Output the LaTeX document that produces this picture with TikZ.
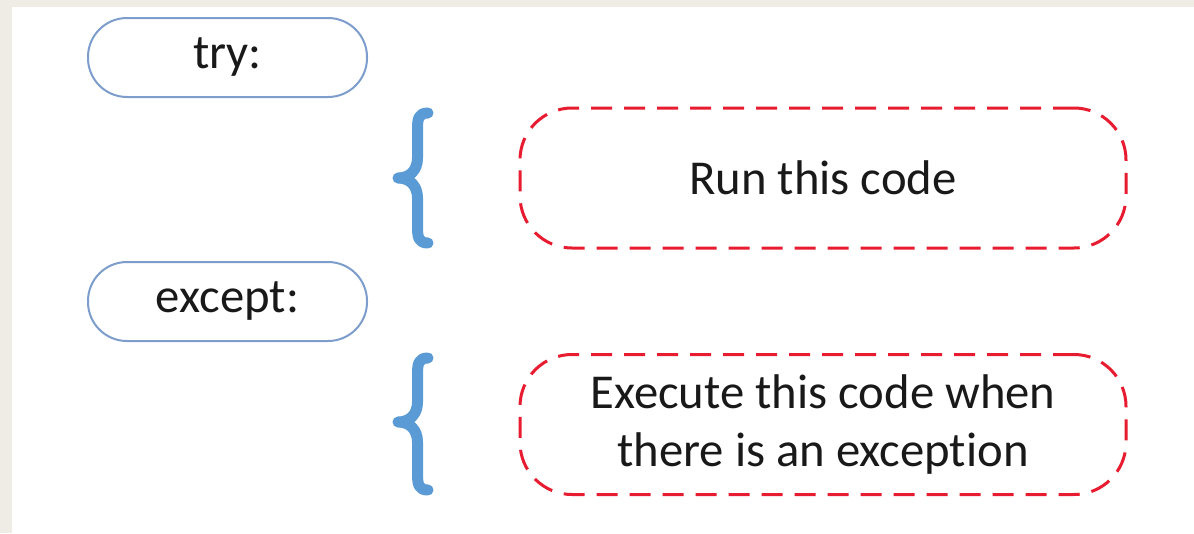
\documentclass[tikz,border=0pt]{standalone}
\usepackage{fontspec}
\setmainfont[Ligatures=NoCommon]{Carlito}
\definecolor{bgbeige}{RGB}{239,236,229}
\definecolor{pillblue}{RGB}{125,157,205}
\definecolor{braceblue}{RGB}{91,155,213}
\definecolor{dashred}{RGB}{232,28,48}
\definecolor{txt}{RGB}{25,25,25}
\tikzset{
  pill/.style={draw=pillblue, line width=2pt, rounded corners=39pt, minimum width=279pt, minimum height=79pt, inner sep=0pt, text=txt, font=\fontsize{48.7}{58}\selectfont},
  dashbox/.style={draw=dashred, line width=3pt, dash pattern=on 21pt off 12pt, rounded corners=52pt, minimum width=606pt, minimum height=140pt, inner sep=0pt, align=center, text=txt, font=\fontsize{48.7}{58}\selectfont},
  bracestyle/.style={draw=braceblue, line width=11pt, line cap=round, line join=round}
}
\begin{document}
\begin{tikzpicture}[x=1pt,y=-1pt]
\fill[bgbeige] (0,0) rectangle (1194,533);
\fill[white] (12,7) rectangle (1194,533);
\useasboundingbox (0,0) rectangle (1194,533);
\node[pill] (try) at (227.5,57.5) {try:};
\node[pill] (except) at (227.5,301.5) {except:};
\node[dashbox] (run) at (823,178) {Run this code};
\node[dashbox] (exec) at (823,424.5) {Execute this code when\\there is an exception};
% brace 1
\draw[bracestyle] (428,113) .. controls (418,113) and (417.5,119) .. (417.5,131) -- (417.5,158) .. controls (417.5,170) and (410,178) .. (398,178) .. controls (410,178) and (417.5,186) .. (417.5,198) -- (417.5,225) .. controls (417.5,237) and (418,243) .. (428,243);
% brace 2
\draw[bracestyle] (428,358) .. controls (418,358) and (417.5,364) .. (417.5,376) -- (417.5,402) .. controls (417.5,414) and (410,422) .. (398,422) .. controls (410,422) and (417.5,430) .. (417.5,442) -- (417.5,472) .. controls (417.5,484) and (418,490) .. (428,490);
\end{tikzpicture}
\end{document}
